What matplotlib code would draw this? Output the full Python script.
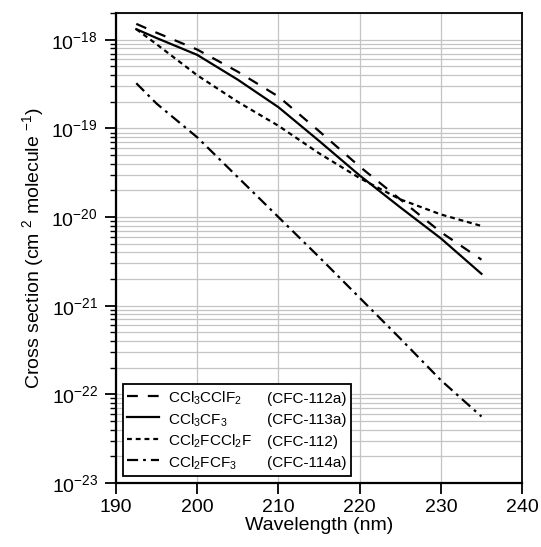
import numpy as np
import matplotlib
matplotlib.use("Agg")
import matplotlib.pyplot as plt
from matplotlib.lines import Line2D

plt.rcParams['font.family'] = ['Liberation Sans', 'DejaVu Sans']
plt.rcParams['mathtext.fontset'] = 'custom'
plt.rcParams['mathtext.rm'] = 'Liberation Sans'
plt.rcParams['mathtext.it'] = 'Liberation Sans'
plt.rcParams['lines.scale_dashes'] = False

# wavelength grid (nm)
wl = [192.5, 195, 200, 205, 210, 215, 220, 225, 230, 235]

# log10 of cross sections (cm2 molecule-1)
log_112a = [-17.82, -17.92, -18.11, -18.36, -18.64, -19.03, -19.43, -19.80, -20.17, -20.48]
log_113a = [-17.88, -17.98, -18.17, -18.45, -18.76, -19.14, -19.53, -19.89, -20.24, -20.64]
log_112 = [-17.88, -18.05, -18.40, -18.70, -18.97, -19.28, -19.56, -19.80, -19.97, -20.10]
log_114a = [-18.49, -18.72, -19.10, -19.55, -20.00, -20.45, -20.91, -21.37, -21.84, -22.25]

formulas = ['CCl$_3$CClF$_2$', 'CCl$_3$CF$_3$', 'CCl$_2$FCCl$_2$F', 'CCl$_2$FCF$_3$']
names = ['(CFC-112a)', '(CFC-113a)', '(CFC-112)', '(CFC-114a)']
series = [log_112a, log_113a, log_112, log_114a]
dashes = [(7.8, 7.2), None, (3.5, 2.8), (8, 3.6, 2, 3.6)]

xticks = [190, 200, 210, 220, 230, 240]
yticks = [1e-23, 1e-22, 1e-21, 1e-20, 1e-19, 1e-18]

fig, ax = plt.subplots(figsize=(5.41, 5.47), dpi=100)
fig.subplots_adjust(left=0.2144, right=0.965, top=0.976, bottom=0.117)

handles = []
for ys, d in zip(series, dashes):
    if d is None:
        ln, = ax.plot(wl, 10.0 ** np.array(ys), color='black', lw=1.6, ls='-')
    else:
        ln, = ax.plot(wl, 10.0 ** np.array(ys), color='black', lw=1.6, dashes=d)
    handles.append(ln)

ax.set_yscale('log')
ax.set_xlim(190, 240)
ax.set_ylim(1e-23, 2e-18)
ax.set_xticks(xticks)
ax.set_yticks(yticks)
ax.grid(True, which='major', axis='x', color='#c4c4c4', lw=0.9)
ax.grid(True, which='both', axis='y', color='#c4c4c4', lw=0.9)
ax.set_axisbelow(True)

ax.tick_params(axis='both', which='major', labelsize=14, length=8, width=1.3, direction='out')
ax.tick_params(axis='y', which='major', pad=5)
ax.tick_params(axis='y', which='minor', length=4.5, width=1.0, direction='out')
ax.tick_params(axis='x', which='minor', bottom=False)
for s in ['left', 'bottom']:
    ax.spines[s].set_linewidth(1.6)
for s in ['top', 'right']:
    ax.spines[s].set_linewidth(1.3)

ax.set_xlabel('Wavelength (nm)', fontsize=14, labelpad=1)
ax.set_ylabel('Cross section (cm $^{2}$ molecule $^{-1}$)', fontsize=14, labelpad=4)

blank = [Line2D([], [], ls='none') for _ in names]
leg = ax.legend(handles + blank, formulas + names, ncol=2, loc='lower left',
                fontsize=11, frameon=True, fancybox=False, edgecolor='black',
                framealpha=1, borderaxespad=0.45, handlelength=2.1,
                handleheight=1.5, labelspacing=0.18,
                handletextpad=0.6, columnspacing=-1.72, borderpad=0.28)
leg.get_frame().set_linewidth(1.3)

fig.savefig('out.png', dpi=100)
